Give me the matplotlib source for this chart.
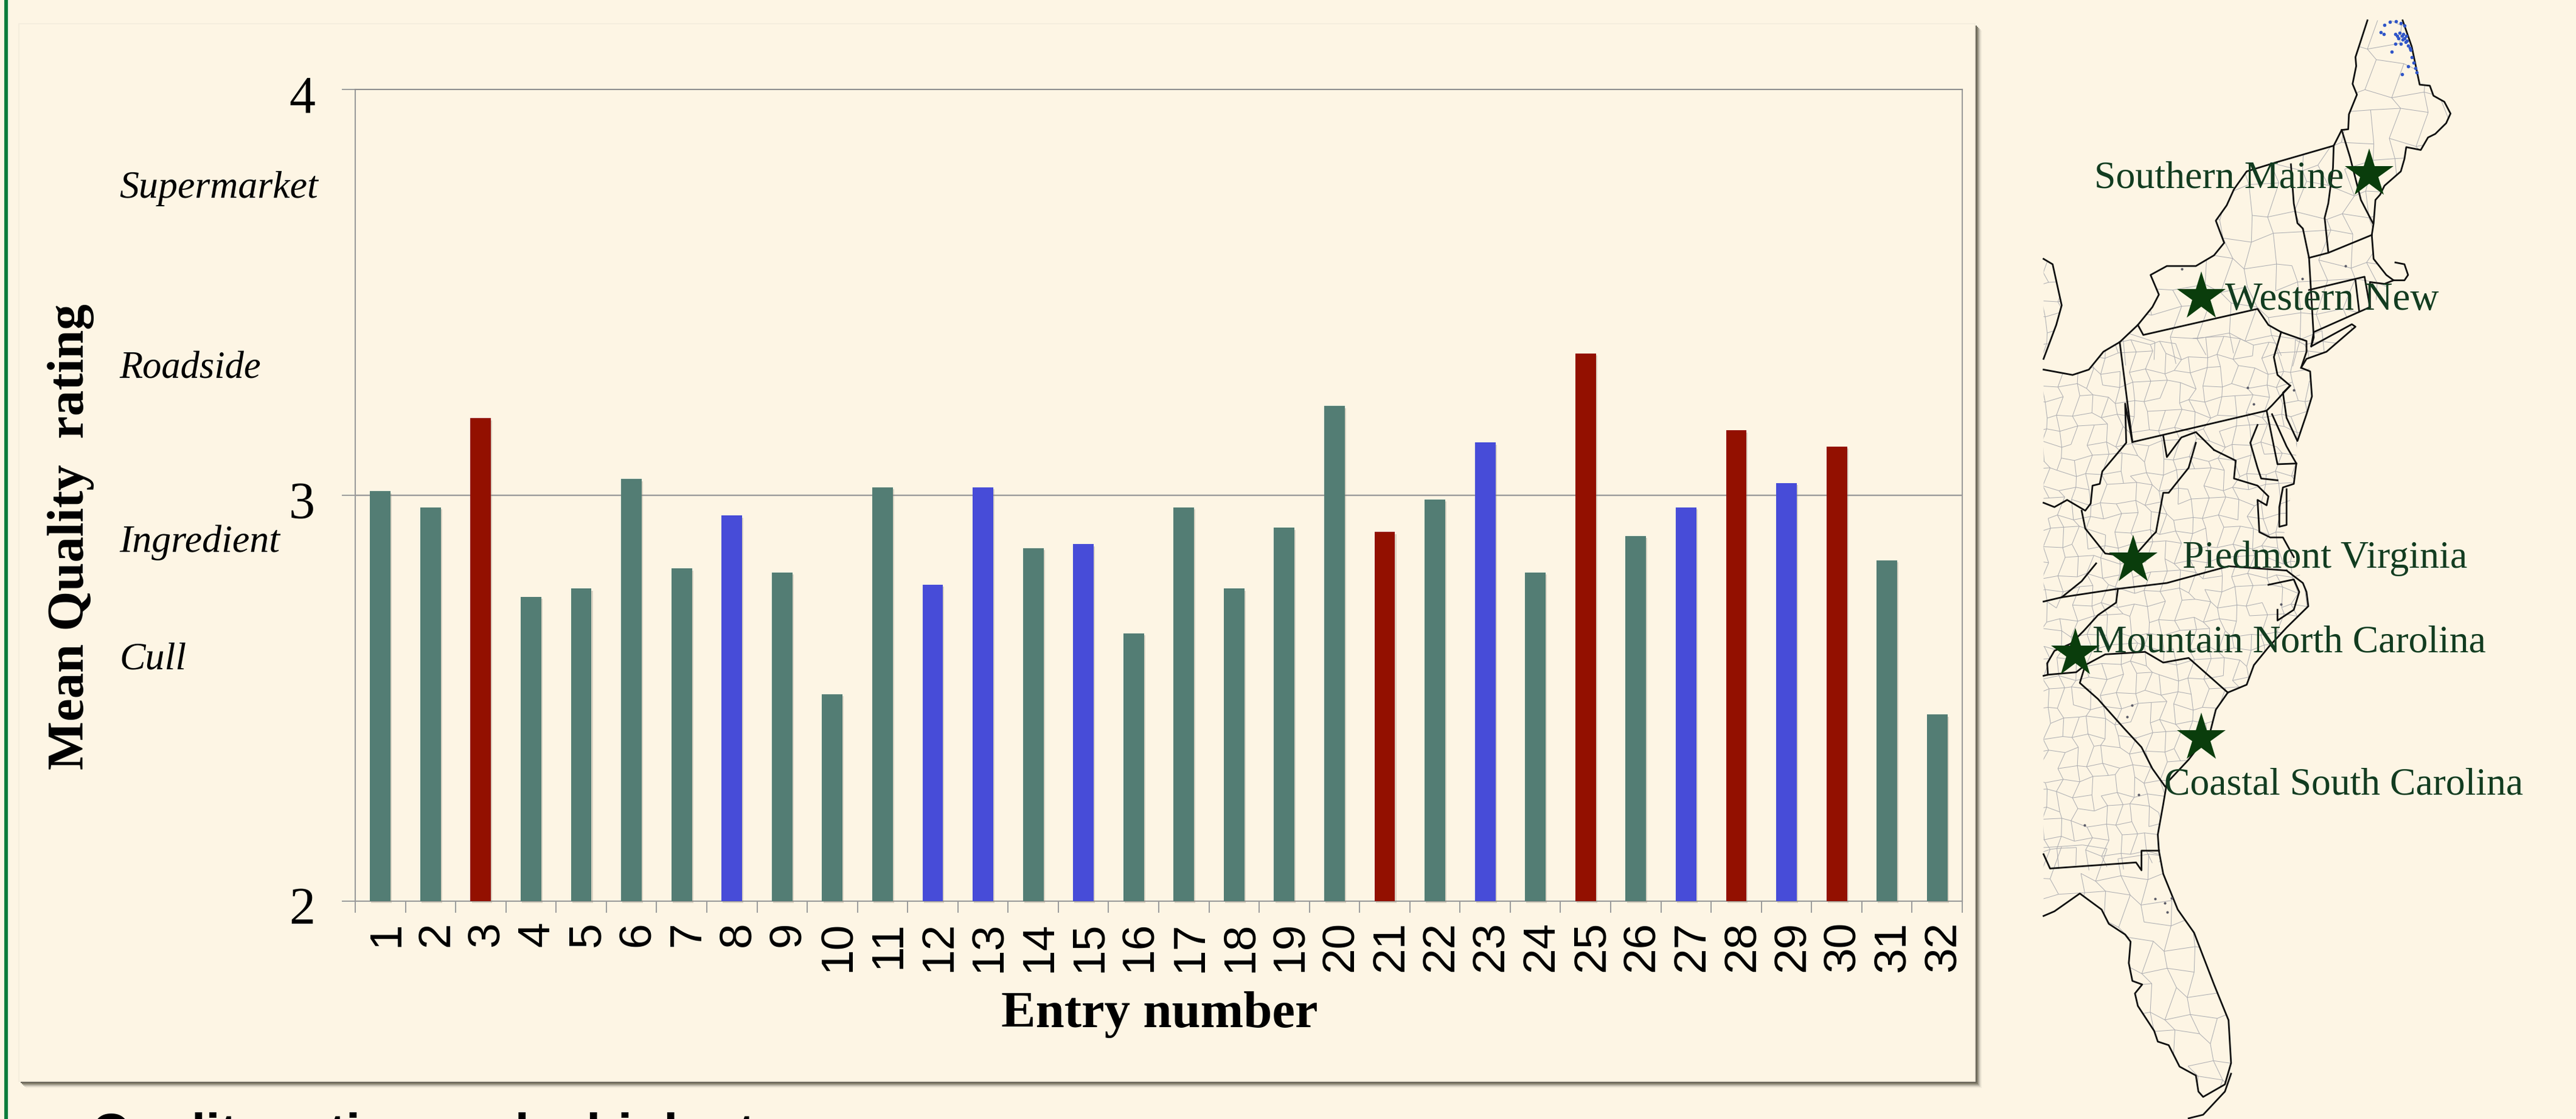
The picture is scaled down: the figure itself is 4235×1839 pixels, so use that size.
import matplotlib
matplotlib.use("Agg")
import matplotlib.pyplot as plt
import matplotlib.patheffects as pe
from matplotlib.patches import Rectangle, Polygon
from matplotlib.collections import LineCollection
from matplotlib.transforms import ScaledTranslation

W, H, DPI = 4235, 1839, 100
BG = "#FDF5E4"
TEAL, RED, BLUE = "#537D74", "#931000", "#474CD8"

# ---------- chart data ----------
entries = list(range(1, 33))
ratings = [3.01, 2.97, 3.19, 2.75, 2.77, 3.04, 2.82, 2.95, 2.81, 2.51, 3.02, 2.78, 3.02, 2.87, 2.88, 2.66,
           2.97, 2.77, 2.92, 3.22, 2.91, 2.99, 3.13, 2.81, 3.35, 2.90, 2.97, 3.16, 3.03, 3.12, 2.84, 2.46]
red_entries = [3, 21, 25, 28, 30]
blue_entries = [8, 12, 13, 15, 23, 27, 29]
y_ticks = [2, 3, 4]
grade_labels = ["Supermarket", "Roadside", "Ingredient", "Cull"]
grade_baselines = [325, 622, 907, 1100]
grade_sizes = [46, 45, 46, 46]
sites = ["Southern Maine", "Western New", "Piedmont Virginia", "Mountain North Carolina", "Coastal South Carolina"]
site_stars = [(3895, 286), (3619, 488), (3507, 921), (3412, 1074), (3619, 1213)]
site_text = [(3443, 308), (3658, 509), (3588, 933), (3440, 1071), (3558, 1305)]
site_sizes = [46, 47, 46, 45.8, 45.8]

# ---------- map tracing (crop coordinates, upper crop = Z1, lower crop = Z2) ----------
def z1(pts):
    return [(3300 + x / 1.677, y / 1.704) for x, y in pts]
def z2(pts):
    return [(3300 + x / 1.677, 920 + y / 1.705) for x, y in pts]

shore_north = z1([(100,1035),(180,1050),(225,1035),(265,985),(310,958),(360,910),(400,860),(418,825),(395,770),(440,745),
                  (520,745),(570,715),(598,680),(575,618),(605,575),(625,530),(660,480),(740,455),(900,408),(922,364),
                  (940,362),(942,320),(964,265),(952,235),(962,185),(960,160),(993,57)])
maine_east = z1([(1090,57),(1115,130),(1137,237),(1165,240),(1175,268),(1205,285),(1222,318),(1210,345),(1180,375),
                 (1160,385),(1140,420),(1100,412),(1095,445),(1085,480),(1040,520),(1028,545),(1015,560),(1010,625),
                 (1005,658),(1010,725),(1045,770),(1065,785),(1095,785),(1105,770),(1095,740),(1070,735)])
ne_coast = z1([(1065,785),(1040,795),(1000,790),(1000,860),(845,930),(838,970),(950,908),(960,915),(880,985),(825,1005),
               (810,1030),(835,1040),(840,1110),(825,1160),(800,1235),(770,1170),(760,1100),(780,1080)])
delmarva = z1([(730,1160),(770,1250),(797,1298),(790,1355),(760,1365),(750,1420),(750,1475),(770,1470),(770,1370)])
bay_west = z1([(690,1190),(670,1240),(690,1310),(700,1340),(745,1345)])
md_de = z1([(715,1150),(745,1300),(797,1298)])
va_coast = z1([(570,1260),(630,1290),(625,1340),(690,1360),(720,1390),(715,1415),(690,1400),(695,1490),(725,1505),(760,1505),(790,1560)])
nc_outer = z2([(770,30),(815,65),(825,90),(830,130),(770,190),(720,245),(680,295),(660,350),(608,372)])
nc_sound = z2([(720,70),(790,55),(805,90),(790,140),(745,170),(745,140)])
sc_ga_coast = z2([(608,372),(575,420),(560,480),(500,560),(440,625),(430,685),(415,770),(418,815)])
florida = z2([(418,815),(430,880),(470,980),(515,1045),(570,1190),(610,1290),(617,1410),(600,1470),(540,1505),(527,1490),
              (520,1445),(475,1420),(445,1360),(415,1350),(405,1320),(360,1250),(352,1215),(372,1190),(345,1180),(335,1130),
              (340,1070),(325,1050),(280,1020),(260,980),(200,935),(130,985),(100,998)])
keys = z2([(617,1440),(600,1490),(540,1555),(500,1565)])
michigan = z1([(100,725),(125,740),(150,855),(135,910),(100,1005)])

borders = [
    z1([(922,364),(945,440),(975,560),(1008,625)]),
    z1([(900,408),(898,470),(885,570),(875,610),(885,705)]),
    z1([(782,460),(790,570),(800,625),(815,640),(832,722)]),
    z1([(832,722),(885,708),(1005,658)]),
    z1([(832,722),(845,945),(838,970)]),
    z1([(832,812),(985,775),(1000,860)]),
    z1([(960,785),(970,870)]),
    z1([(360,910),(375,938),(690,865),(720,910),(755,930),(825,955),(825,985),(810,1030)]),
    z1([(755,930),(735,1000),(745,1050),(780,1080),(730,1135),(715,1150),(345,1238),(310,958)]),
    z1([(345,1238),(325,1130),(328,1240),(262,1320),(255,1355),(235,1360),(230,1410),(215,1430),(165,1400),(130,1420),(100,1408)]),
    z1([(430,1220),(440,1280),(480,1225),(520,1210),(570,1260)]),
    z1([(520,1240),(500,1310),(445,1380),(430,1380),(410,1490),(400,1500),(348,1560),(270,1550),(215,1480),(205,1430)]),
    z2([(100,117),(150,105),(300,82),(440,65),(610,18),(770,30)]),
    z2([(150,105),(205,60),(245,10)]),
    z2([(305,82),(300,120),(250,155),(210,200),(175,235),(130,255),(110,290),(112,322),(100,325)]),
    z2([(112,322),(190,315),(215,295),(270,265),(380,258),(430,288),(500,275),(608,372)]),
    z2([(215,295),(200,345),(250,390),(320,470),(370,525),(400,585),(435,635)]),
    z2([(418,815),(370,815),(370,870),(355,848),(118,865),(100,825)]),
]
coasts = [shore_north, maine_east, ne_coast, delmarva, bay_west, md_de, va_coast, nc_outer, nc_sound, sc_ga_coast, florida, keys, michigan]
land_outline = (shore_north + maine_east[:20] + z1([(1010,725),(1045,770),(1065,785),(1000,860),(845,930),(950,908),(960,915),
                 (880,985),(825,1005),(835,1040),(840,1110),(825,1160),(800,1235),(790,1355),(760,1480),(790,1560)]) +
                nc_outer[1:] + sc_ga_coast[1:] + florida[1:])
maine_dots = z1([(1030,90),(1040,70),(1038,95),(1055,62),(1072,60),(1085,65),(1095,72),(1070,95),(1082,92),(1092,95),(1100,100),
                 (1078,108),(1090,110),(1070,122),(1098,118),(1105,128),(1085,122),(1112,140),(1060,145),(1115,160),(1120,175),
                 (1105,185),(1125,190),(1128,203),(1088,208),(1075,100),(1088,100),(1095,108),(1102,115),(1110,135)])
town_dots = z1([(482,753),(814,780),(932,744),(662,1085),(680,1132),(790,1092)]) + \
            z2([(344,408),(330,440),(362,658),(213,743),(408,950),(435,962),(441,988),(453,948),(755,125)])

# jitter tables give the traced county mesh its irregular look
JIT_X = [5, -7, 2, 9, -4, -9, 6, 1, -6, 8, -2, 4, -8]
JIT_Y = [-5, 8, 3, -9, 6, -2, 9, -7, 1, 5, -4]

def mesh(y0, y1, step):
    segs = []
    nx, ny = int(900 / step), int((y1 - y0) / step) + 1
    def v(i, j):
        return (3340 + i * step + JIT_X[(i * 3 + j * 5) % 13] * step / 30,
                y0 + j * step + JIT_Y[(i * 7 + j * 2) % 11] * step / 30)
    for i in range(nx):
        for j in range(ny):
            if (i + 2 * j) % 7 != 3:
                segs.append([v(i, j), v(i + 1, j)])
            if (2 * i + j) % 9 != 4:
                segs.append([v(i, j), v(i, j + 1)])
    return segs

# ---------- figure ----------
fig = plt.figure(figsize=(W / DPI, H / DPI), dpi=DPI, facecolor=BG)
back = fig.add_axes([0, 0, 1, 1], zorder=0)
back.set_xlim(0, W); back.set_ylim(H, 0); back.axis("off")

back.add_patch(Rectangle((7, 0), 6, H, color="#0A7D3C", lw=0))
for off, col in [(11, "#F1EAD9"), (9, "#D6D0C1"), (7, "#AEA99B"), (5, "#87826F"), (3, "#6A665A")]:
    back.add_patch(Rectangle((31 + off, 39 + off), 3216, 1738, color=col, lw=0))
back.add_patch(Rectangle((31, 39), 3216, 1738, facecolor=BG, edgecolor="#F3ECDC", lw=1.2))
back.text(150, 1890, "Quality rating and a high st", family="Liberation Sans", weight="bold", fontsize=61,
          color="black", ha="left", va="baseline", clip_on=True)

for name, yb, fs in zip(grade_labels, grade_baselines, grade_sizes):
    back.text(196, yb, name, family="Liberation Serif", style="italic", fontsize=fs, color="black", ha="left", va="baseline")
back.text(137, 882, "Mean Quality  rating", family="Liberation Serif", weight="bold", fontsize=61, rotation=90,
          ha="center", va="baseline", rotation_mode="anchor", color="black")
back.text(1906, 1688, "Entry number", family="Liberation Serif", weight="bold", fontsize=61, ha="center", va="baseline", color="black")

# bar chart
ax = fig.add_axes([584 / W, (H - 1481) / H, 2642 / W, 1334 / H], zorder=1)
ax.patch.set_alpha(0)
colors = [RED if e in red_entries else BLUE if e in blue_entries else TEAL for e in entries]
bars = ax.bar(entries, [r - 2 for r in ratings], bottom=2, width=0.41, color=colors, linewidth=0, zorder=3, clip_on=False)
for b in bars:
    b.set_path_effects([pe.SimplePatchShadow(offset=(1.5, -2.5), shadow_rgbFace="#8a8578", alpha=0.3), pe.Normal()])
ax.set_xlim(0.5, 32.5)
ax.set_ylim(2, 4)
GREY = "#9A9A9A"
for s in ax.spines.values():
    s.set_color(GREY); s.set_linewidth(1.5)
ax.spines["top"].set_color("#8C8C8C")
ax.axhline(3, color=GREY, lw=1.7, zorder=2)

ax.set_yticks(y_ticks)
ax.set_yticklabels([str(t) for t in y_ticks], family="Liberation Serif", fontsize=62)
ax.tick_params(axis="y", length=22 * 72 / DPI, width=1.4, color=GREY, pad=44 * 72 / DPI)
shift_y = ScaledTranslation(0, -7 / DPI, fig.dpi_scale_trans)
for lab in ax.get_yticklabels():
    lab.set_transform(lab.get_transform() + shift_y)

ax.set_xticks([e + 0.5 for e in entries[:-1]] + [0.5, 32.5], minor=True)
ax.set_xticks(entries)
ax.set_xticklabels([str(e) for e in entries], family="Liberation Sans", fontsize=54, rotation=90, va="top", ha="center")
ax.tick_params(axis="x", which="major", length=0, pad=33 * 72 / DPI)
ax.tick_params(axis="x", which="minor", length=19 * 72 / DPI, width=1.4, color=GREY)
shift_x = ScaledTranslation(10 / DPI, 0, fig.dpi_scale_trans)
for lab in ax.get_xticklabels():
    lab.set_transform(lab.get_transform() + shift_x)

# map
mp = fig.add_axes([0, 0, 1, 1], zorder=2)
mp.patch.set_alpha(0)
mp.set_xlim(0, W); mp.set_ylim(H, 0); mp.axis("off")
land = Polygon(land_outline, closed=True, transform=mp.transData, facecolor="none", edgecolor="none")
mp.add_patch(land)
mich = Polygon(michigan, closed=True, transform=mp.transData, facecolor="none", edgecolor="none")
mp.add_patch(mich)
for y0, y1, step, clip in [(30, 560, 40, land), (560, 1400, 24, land), (1400, 1800, 38, land), (420, 600, 24, mich)]:
    lc = LineCollection(mesh(y0, y1, step), colors="#ABABB0", linewidths=0.7, zorder=2)
    mp.add_collection(lc)
    lc.set_clip_path(clip)
for line in coasts + borders:
    xs, ys = zip(*line)
    mp.plot(xs, ys, color="#101010", lw=2.0, solid_joinstyle="round", zorder=3)
xs, ys = zip(*maine_dots)
mp.scatter(xs, ys, s=16, color="#2F55C8", lw=0, zorder=3)
xs, ys = zip(*town_dots)
mp.scatter(xs, ys, s=9, color="#5A5A66", lw=0, zorder=3)
xs, ys = zip(*site_stars)
mp.plot(xs, ys, ls="none", marker="*", ms=60, color="#0A3D0C", mew=0, zorder=4)
for name, (x, y), fs in zip(sites, site_text, site_sizes):
    mp.text(x, y, name, family="Liberation Serif", fontsize=fs, color="#123C20", ha="left", va="baseline", zorder=5)

fig.savefig("out.png", dpi=DPI, facecolor=BG)
